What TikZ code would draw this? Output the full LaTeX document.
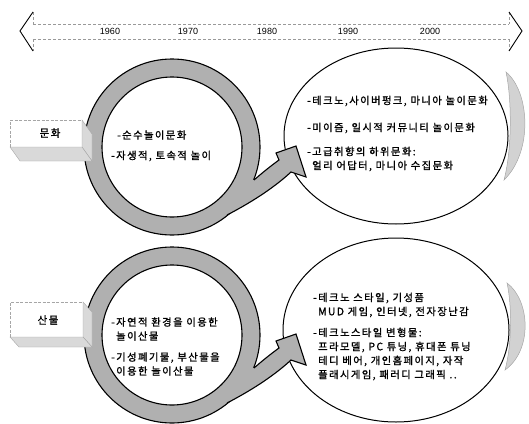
\documentclass[tikz,border=0pt]{standalone}
\usepackage{fontspec}
\setmainfont{Liberation Sans}
\newfontfamily\kr[LetterSpace=14,FakeBold=1.2]{Noto Sans CJK KR}
\begin{document}
\begin{tikzpicture}[x=1pt,y=-1pt,
  kt/.style={font=\kr\fontsize{10.3}{14}\selectfont, anchor=west, align=left, inner sep=0pt},
  yr/.style={font=\fontsize{9}{10}\selectfont, inner sep=0pt},
  lab/.style={font=\kr\fontsize{10.5}{12}\selectfont, inner sep=0pt},
  ringfill/.style={fill=gray!62},
  crescent/.style={fill=gray!35, draw=gray!70, line width=0.5pt},
  bubble/.style={fill=white, draw=black, line width=1pt},
  tlbody/.style={draw=gray!80, line width=0.5pt, dash pattern=on 3pt off 2pt},
  tlhead/.style={draw=black, line width=0.9pt},
  boxface/.style={fill=gray!30, draw=gray!70, line width=0.4pt},
  boxfront/.style={draw=gray!70, line width=0.5pt, dash pattern=on 3pt off 1.5pt}]
\useasboundingbox (0,0) rectangle (529,423);

% timeline double arrow
\draw[tlbody] (33,24) -- (509,24) (33,39) -- (509,39)
  (33,12) -- (33,24) (33,39) -- (33,51) (509,12) -- (509,24) (509,39) -- (509,51);
\draw[tlhead] (33,12) -- (20,31) -- (33,51);
\draw[tlhead] (509,12) -- (522,31) -- (509,51);
\node[yr] (y60) at (110,31) {1960};
\node[yr] (y70) at (188,31) {1970};
\node[yr] (y80) at (267,31) {1980};
\node[yr] (y90) at (348,31) {1990};
\node[yr] (y00) at (430,31) {2000};

% crescents
\fill[crescent] (506,72) .. controls (530,92) and (533,152) .. (504,180)
  .. controls (512,150) and (512,100) .. (506,72) -- cycle;
\fill[crescent] (507,283) .. controls (530,300) and (533,350) .. (505,370)
  .. controls (512,345) and (512,305) .. (507,283) -- cycle;

% bubbles
\draw[bubble] (396,136) ellipse [x radius=112pt, y radius=88pt];
\draw[bubble] (396,330) ellipse [x radius=113pt, y radius=92pt];

% rings with arrows
\foreach \dy in {0,188}{
  \begin{scope}[shift={(0,\dy)}]
    \fill[ringfill, even odd rule] (172,147) circle (88pt) (172,147) circle (70pt);
    \draw[line width=1.1pt] (172,147) circle (88pt);
    \draw[line width=1.1pt] (172,147) circle (70pt);
    \fill[ringfill] (227,215) .. controls (256,200) and (277,185) .. (291,172)
      -- (306,177) -- (296,146) -- (276,153) -- (279,160)
      .. controls (268,168) and (261,174) .. (254,180)
      -- (245,177) -- (222,208) -- cycle;
    \draw[line width=1.1pt, line join=miter] (227,215) .. controls (256,200) and (277,185) .. (291,172)
      -- (306,177) -- (296,146) -- (276,153) -- (279,160)
      .. controls (268,168) and (261,174) .. (254,180);
  \end{scope}
}

% label boxes
\fill[boxface] (82,120) -- (92,134) -- (92,161) -- (82,147) -- cycle;
\fill[boxface] (10,147) -- (82,147) -- (92,161) -- (20,161) -- cycle;
\draw[boxfront] (10,147) -- (10,120) -- (82,120);
\node[lab] (culture) at (50,133) {문화};

\fill[boxface] (83,302) -- (92,312) -- (92,347) -- (83,337) -- cycle;
\fill[boxface] (10,337) -- (83,337) -- (92,347) -- (19,347) -- cycle;
\draw[boxfront] (10,337) -- (10,302) -- (83,302);
\node[lab] (product) at (48,320) {산물};

% ring texts
\node[kt] (r1a) at (117,135) {-순수놀이문화};
\node[kt] (r1b) at (111,156) {-자생적, 토속적 놀이};
\node[kt] (r2a) at (111,329) {-자연적 환경을 이용한\\\hspace{5pt}놀이산물};
\node[kt] (r2b) at (111,364) {-기성폐기물, 부산물을\\\hspace{5pt}이용한 놀이산물};

% bubble texts
\node[kt] (b1a) at (307,101) {-테크노,사이버펑크, 마니아 놀이문화};
\node[kt] (b1b) at (307,128) {-미이즘, 일시적 커뮤니티 놀이문화};
\node[kt] (b1c) at (307,159) {-고급취향의 하위문화:\\\hspace{5pt}얼리 어답터, 마니아 수집문화};

\node[kt] (b2a) at (313,305) {-테크노 스타일, 기성품\\\hspace{5pt}MUD 게임, 인터넷, 전자장난감};
\node[kt] (b2b) at (313,354) {-테크노스타일 변형물:\\\hspace{5pt}프라모델, PC 튜닝, 휴대폰 튜닝\\\hspace{5pt}테디 베어, 개인홈페이지, 자작\\\hspace{5pt}플래시게임, 패러디 그래픽 ..};
\end{tikzpicture}
\end{document}
